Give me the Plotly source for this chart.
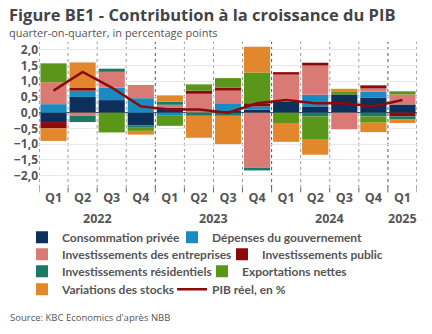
import plotly.graph_objects as go

quarters = ["Q1", "Q2", "Q3", "Q4", "Q1", "Q2", "Q3", "Q4", "Q1", "Q2", "Q3", "Q4", "Q1"]
years = ["2022", "2022", "2022", "2022", "2023", "2023", "2023", "2023",
         "2024", "2024", "2024", "2024", "2025"]

consommation = [-0.3, 0.5, 0.4, -0.4, 0.15, 0.0, 0.05, 0.1, 0.35, 0.2, 0.58, 0.47, 0.26]
gouvernement = [0.27, 0.2, 0.4, 0.46, -0.1, 0.0, 0.25, 0.1, 0.0, 0.37, 0.0, 0.2, 0.0]
entreprises = [0.7, -0.1, 0.5, 0.42, 0.1, 0.6, 0.4, -1.75, 0.86, 0.93, -0.53, 0.1, 0.32]
public = [-0.2, 0.1, 0.0, 0.0, 0.0, 0.1, 0.1, 0.1, 0.08, 0.09, 0.0, 0.1, -0.12]
residentiels = [0.0, -0.2, 0.1, -0.08, 0.1, -0.1, -0.1, -0.09, 0.0, -0.12, 0.0, -0.12, -0.1]
exportations = [0.6, 0.0, -0.63, -0.1, -0.32, 0.2, 0.3, 0.98, -0.33, -0.72, 0.1, -0.2, 0.1]
stocks = [-0.4, 0.8, 0.0, -0.12, 0.2, -0.7, -0.9, 0.82, -0.6, -0.5, 0.08, -0.3, -0.11]
pib = [0.7, 1.3, 0.8, 0.2, 0.1, 0.1, 0.0, 0.3, 0.4, 0.3, 0.3, 0.2, 0.4]

x = list(range(len(quarters)))

# (label, values, colour)
series = [
    ("Consommation privée", consommation, "#0c2f5c"),
    ("Dépenses du gouvernement", gouvernement, "#1a8bc1"),
    ("Investissements des entreprises", entreprises, "#d97b74"),
    ("Investissements public", public, "#8c0a0a"),
    ("Investissements résidentiels", residentiels, "#1b7a64"),
    ("Exportations nettes", exportations, "#5a9619"),
    ("Variations des stocks", stocks, "#e2872b"),
]

# legend layout: one entry per legend box -> (left of label text in px, row centre in px)
legend_slots = [(62, 238), (212, 238), (62, 255), (262, 255),
                (62, 272), (242, 272), (62, 290), (212, 290)]

fig = go.Figure()
legend_ids = ["legend" if i == 0 else "legend%d" % (i + 1) for i in range(len(legend_slots))]
for (name, vals, col), leg in zip(series, legend_ids):
    fig.add_trace(go.Bar(x=x, y=vals, name=name, legend=leg,
                         marker=dict(color=col, line=dict(width=0))))

fig.add_trace(go.Scatter(x=x, y=pib, name="PIB réel, en %", mode="lines",
                         legend=legend_ids[-1], line=dict(color="#8c0a0a", width=2.5)))

# separators between quarters (dotted), darker at year boundaries
shapes = []
for i in range(len(x) + 1):
    boundary = i == 0 or i == len(x) or years[i] != years[i - 1]
    shapes.append(dict(type="line", xref="x", yref="paper", x0=i - 0.5, x1=i - 0.5,
                       y0=0, y1=1, layer="below",
                       line=dict(color="#555555" if boundary else "#999999", width=1, dash="dot")))
    shapes.append(dict(type="line", xref="x", yref="paper", x0=i - 0.5, x1=i - 0.5,
                       y0=-0.03, y1=0.0,
                       line=dict(color="#666666", width=1)))

# year labels centred under their quarters
annotations = []
for yr in dict.fromkeys(years):
    idx = [i for i, v in enumerate(years) if v == yr]
    annotations.append(dict(x=sum(idx) / len(idx), y=-0.14, xref="x", yref="paper",
                            text="<b>%s</b>" % yr, showarrow=False, yanchor="top",
                            font=dict(size=12.5, color="#555555")))

annotations += [
    dict(x=0, y=1, xref="paper", yref="paper", xanchor="left", yanchor="top",
         text="<b>Figure BE1 - Contribution à la croissance du PIB</b>", showarrow=False,
         xshift=-32, yshift=41, font=dict(size=16.5, color="#444444")),
    dict(x=0, y=1, xref="paper", yref="paper", xanchor="left", yanchor="top",
         text="quarter-on-quarter, in percentage points", showarrow=False,
         xshift=-32, yshift=19, font=dict(size=11, color="#555555")),
    dict(x=0, y=0, xref="paper", yref="paper", xanchor="left", yanchor="top",
         text="Source: KBC Economics d'après NBB", showarrow=False,
         xshift=-31, yshift=-121, font=dict(size=9.5, color="#555555")),
]

# plot area in px: left edge, width, bottom edge (from top), height
PLOT_L, PLOT_W, PLOT_B, PLOT_H = 39, 378, 188.5, 146.5
legend_font = dict(size=12, color="#555555", family="Lato", weight="bold")
legends = {}
for leg, (tx, yc) in zip(legend_ids, legend_slots):
    legends[leg] = dict(orientation="h", x=(tx - 40 - PLOT_L) / PLOT_W, xanchor="left",
                        y=(PLOT_B - yc) / PLOT_H, yanchor="middle",
                        font=legend_font, itemwidth=30, bgcolor="rgba(0,0,0,0)")

fig.update_layout(
    width=432, height=334,
    margin=dict(l=PLOT_L, r=432 - PLOT_L - PLOT_W, t=PLOT_B - PLOT_H, b=334 - PLOT_B,
                autoexpand=False),
    barmode="relative", bargap=0.1,
    plot_bgcolor="white", paper_bgcolor="white",
    separators=", ",
    font=dict(family="Open Sans", color="#555555"),
    showlegend=True,
    shapes=shapes, annotations=annotations,
    **legends,
)
fig.update_xaxes(tickvals=x, ticktext=["<b>%s</b>" % q for q in quarters],
                 range=[-0.5, len(x) - 0.5], showgrid=False, zeroline=False,
                 tickfont=dict(size=12.5, color="#555555"), ticks="")
fig.update_yaxes(range=[-2.4, 2.25], tickvals=[-2, -1.5, -1, -0.5, 0, 0.5, 1, 1.5, 2],
                 tickformat=".1f", showgrid=True, gridcolor="#e8e8e8", gridwidth=1,
                 zeroline=True, zerolinecolor="#555555", zerolinewidth=1,
                 tickfont=dict(size=12, color="#555555", weight="bold"), ticks="")

fig.write_html("out.html")
